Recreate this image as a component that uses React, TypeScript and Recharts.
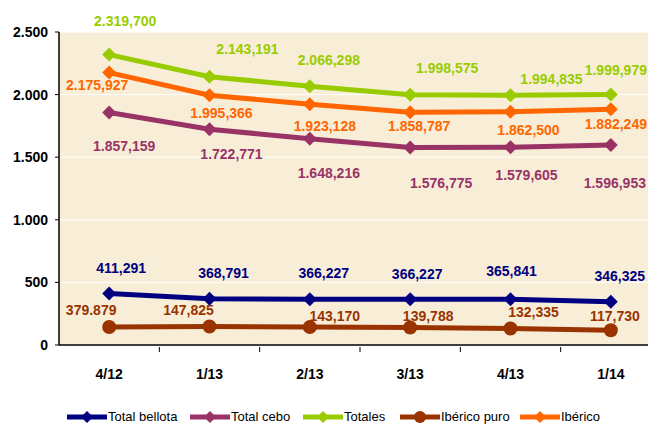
import React from 'react';
import { LineChart, Line, XAxis, YAxis, CartesianGrid, LabelList } from 'recharts';

const categories = ['4/12', '1/13', '2/13', '3/13', '4/13', '1/14'];
const totalBellota = [411.291, 368.791, 366.227, 366.227, 365.841, 346.325];
const totalCebo = [1857.159, 1722.771, 1648.216, 1576.775, 1579.605, 1596.953];
const totales = [2319.7, 2143.191, 2066.298, 1998.575, 1994.835, 1999.979];
const ibericoPuro = [143.5, 147.825, 143.17, 139.788, 132.335, 117.73];
const iberico = [2175.927, 1995.366, 1923.128, 1858.787, 1862.5, 1882.249];

const bellotaLabels = ['411,291', '368,791', '366,227', '366,227', '365,841', '346,325'];
const ceboLabels = ['1.857,159', '1.722,771', '1.648,216', '1.576,775', '1.579,605', '1.596,953'];
const totalesLabels = ['2.319,700', '2.143,191', '2.066,298', '1.998,575', '1.994,835', '1.999,979'];
const puroLabels = ['379.879', '147,825', '143,170', '139,788', '132,335', '117,730'];
const ibericoLabels = ['2.175,927', '1.995,366', '1.923,128', '1.858,787', '1.862,500', '1.882,249'];

const yTicks = [0, 500, 1000, 1500, 2000, 2500];

const data = categories.map((cat, i) => ({
  cat,
  bellota: totalBellota[i],
  cebo: totalCebo[i],
  totales: totales[i],
  puro: ibericoPuro[i],
  iberico: iberico[i],
}));

// label offsets from each point [dx, dy]
const bellotaOff = [[12, -26], [14, -26], [14, -26], [7, -25], [1, -28], [9, -26]];
const ceboOff = [[15, 34], [22, 25], [19, 34], [31, 35], [16, 28], [4, 38]];
const totalesOff = [[16, -34], [38, -28], [19, -26], [37, -27], [41, -16], [5, -25]];
const puroOff = [[-18, -17], [-21, -16], [25, -11], [18, -11], [23, -16], [4, -14]];
const ibericoOff = [[-12, 12], [12, 18], [15, 22], [9, 14], [18, 18], [5, 15]];

const FONT = 'Arial, "Liberation Sans", sans-serif';
const WIDTH = 661;
const HEIGHT = 424;
const Y_AXIS_W = 59;
const BAND = (WIDTH - Y_AXIS_W) / categories.length;

const fmtY = (v: number) =>
  v >= 1000 ? `${Math.floor(v / 1000)}.${String(v % 1000).padStart(3, '0')}` : String(v);

const diamond = (color: string) => (props: any) => {
  const { cx, cy, index } = props;
  if (cx == null || cy == null) return <g key={index} />;
  const s = 7;
  return (
    <polygon
      key={index}
      points={`${cx},${cy - s} ${cx + s},${cy} ${cx},${cy + s} ${cx - s},${cy}`}
      fill={color}
    />
  );
};

const circle = (color: string) => (props: any) => {
  const { cx, cy, index } = props;
  if (cx == null || cy == null) return <g key={index} />;
  return <circle key={index} cx={cx} cy={cy} r={7} fill={color} />;
};

const labeler = (texts: string[], offs: number[][], color: string) => (props: any) => {
  const { x, y, index } = props;
  const [dx, dy] = offs[index];
  return (
    <text
      key={index}
      x={x + dx}
      y={y + dy}
      textAnchor="middle"
      dominantBaseline="central"
      fill={color}
      fontFamily={FONT}
      fontWeight="bold"
      fontSize={14}
    >
      {texts[index]}
    </text>
  );
};

const XTick = (props: any) => {
  const { x, y, payload, index } = props;
  return (
    <g>
      {index < categories.length - 1 && (
        <line x1={x + BAND / 2} x2={x + BAND / 2} y1={y} y2={y + 5} stroke="#000" strokeWidth={1} />
      )}
      <text x={x} y={y + 32} textAnchor="middle" fontFamily={FONT} fontWeight="bold" fontSize={14} fill="#000">
        {payload.value}
      </text>
    </g>
  );
};

const legendItems = [
  { name: 'Total bellota', color: '#000080', shape: 'diamond', left: 67 },
  { name: 'Total cebo', color: '#993366', shape: 'diamond', left: 190 },
  { name: 'Totales', color: '#99cc00', shape: 'diamond', left: 303 },
  { name: 'Ibérico puro', color: '#993300', shape: 'circle', left: 400 },
  { name: 'Ibérico', color: '#ff6600', shape: 'diamond', left: 520 },
];

export default function App() {
  return (
    <div style={{ position: 'absolute', left: 0, top: 0, width: 648, height: 424, overflow: 'hidden', background: '#fff' }}>
      <LineChart width={WIDTH} height={HEIGHT} data={data} margin={{ top: 32, right: 0, left: 0, bottom: 49 }}>
        <CartesianGrid fill="#f8eed8" stroke="#ffffff" vertical={false} />
        <XAxis
          dataKey="cat"
          axisLine={{ stroke: '#000', strokeWidth: 1.5 }}
          tickLine={false}
          tickSize={0}
          height={30}
          tick={<XTick />}
          interval={0}
          padding={{ left: BAND / 2, right: BAND / 2 }}
        />
        <YAxis
          width={Y_AXIS_W}
          domain={[0, 2500]}
          ticks={yTicks}
          tickFormatter={fmtY}
          axisLine={{ stroke: '#000', strokeWidth: 1.5 }}
          tickLine={{ stroke: '#000' }}
          tickSize={4}
          tickMargin={7}
          tick={{ fill: '#000', fontFamily: FONT, fontWeight: 'bold', fontSize: 14 }}
          interval={0}
        />
        <Line dataKey="bellota" stroke="#000080" strokeWidth={5} dot={diamond('#000080')} activeDot={false} isAnimationActive={false}>
          <LabelList content={labeler(bellotaLabels, bellotaOff, '#000080')} />
        </Line>
        <Line dataKey="cebo" stroke="#993366" strokeWidth={5} dot={diamond('#993366')} activeDot={false} isAnimationActive={false}>
          <LabelList content={labeler(ceboLabels, ceboOff, '#993366')} />
        </Line>
        <Line dataKey="totales" stroke="#99cc00" strokeWidth={5} dot={diamond('#99cc00')} activeDot={false} isAnimationActive={false}>
          <LabelList content={labeler(totalesLabels, totalesOff, '#99cc00')} />
        </Line>
        <Line dataKey="puro" stroke="#993300" strokeWidth={5} dot={circle('#993300')} activeDot={false} isAnimationActive={false}>
          <LabelList content={labeler(puroLabels, puroOff, '#993300')} />
        </Line>
        <Line dataKey="iberico" stroke="#ff6600" strokeWidth={5} dot={diamond('#ff6600')} activeDot={false} isAnimationActive={false}>
          <LabelList content={labeler(ibericoLabels, ibericoOff, '#ff6600')} />
        </Line>
      </LineChart>

      {/* legend */}
      {legendItems.map((it) => (
        <div
          key={it.name}
          style={{ position: 'absolute', left: it.left, top: 410, display: 'flex', alignItems: 'center', fontFamily: FONT, fontSize: 13, color: '#000' }}
        >
          <svg width={40} height={14}>
            <line x1={0} x2={40} y1={7} y2={7} stroke={it.color} strokeWidth={5} />
            {it.shape === 'circle' ? (
              <circle cx={20} cy={7} r={6} fill={it.color} />
            ) : (
              <polygon points="20,1 26,7 20,13 14,7" fill={it.color} />
            )}
          </svg>
          <span style={{ marginLeft: 1, lineHeight: '14px' }}>{it.name}</span>
        </div>
      ))}
    </div>
  );
}
